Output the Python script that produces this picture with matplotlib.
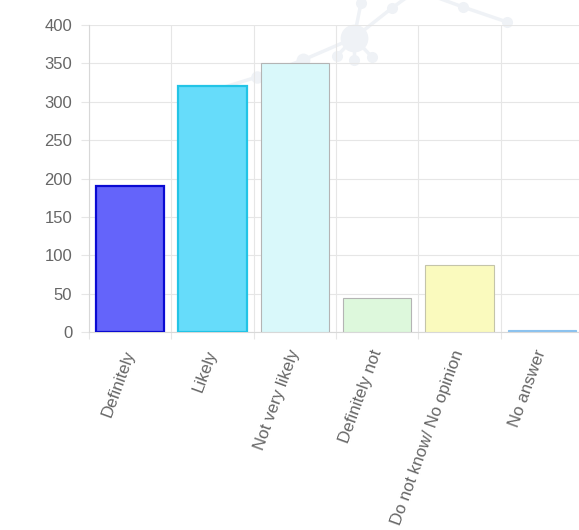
import numpy as np
import matplotlib
matplotlib.use("Agg")
import matplotlib.pyplot as plt
from matplotlib.ticker import FixedLocator

categories = ["Definitely", "Likely", "Not very likely", "Definitely not",
              "Do not know/ No opinion", "No answer"]
counts = [191, 321, 351, 45, 88, 3]
fill_colors = ["#6464fa", "#66dcfa", "#d9f8fa", "#ddf8dc", "#fafabe", "#8cc2ee"]
edge_colors = ["#0a0ad2", "#22c4e6", "#b4b4b4", "#b4b4b4", "#c4c4aa", "#8cc2ee"]
edge_widths = [1.6, 1.6, 0.8, 0.8, 0.8, 0.8]
y_ticks = [0, 50, 100, 150, 200, 250, 300, 350, 400]

plt.rcParams['font.family'] = ['Liberation Sans', 'DejaVu Sans']

W, H = 579, 530
fig = plt.figure(figsize=(W / 100, H / 100), dpi=100)

# faint network watermark behind the chart (pixel coords of the image)
bg = fig.add_axes([0, 0, 1, 1], zorder=0)
bg.set_xlim(0, W)
bg.set_ylim(H, 0)
bg.axis("off")
wm = "#eff2f6"
nodes = {"hub": (354, 38), "a": (361, 3), "b": (392, 8), "c": (463, 7), "d": (507, 22),
         "e": (337, 56), "f": (354, 60), "g": (372, 57), "h": (303, 60), "i": (257, 77)}
links = [("hub", "a"), ("hub", "b"), ("hub", "e"), ("hub", "f"), ("hub", "g"),
         ("hub", "h"), ("h", "i"), ("c", "d")]
for p, q in links:
    bg.plot([nodes[p][0], nodes[q][0]], [nodes[p][1], nodes[q][1]], color=wm, lw=2.5)
bg.plot([392, 410], [8, -5], color=wm, lw=2.5)
bg.plot([463, 430], [7, -5], color=wm, lw=2.5)
bg.plot([257, 215], [77, 90], color=wm, lw=2.5)
sizes = {"hub": 20, "h": 10, "i": 9}
for k, (x, y) in nodes.items():
    bg.plot(x, y, "o", color=wm, ms=sizes.get(k, 8), mec="none")

left, right = 89 / W, 583 / W
bottom, top = (H - 332.3) / H, (H - 25) / H
ax = fig.add_axes([left, bottom, right - left, top - bottom], zorder=1)
ax.patch.set_alpha(0)

x = np.arange(len(categories))
ax.bar(x, counts, width=0.83, color=fill_colors, edgecolor=edge_colors,
       linewidth=edge_widths, zorder=3)

ax.set_xlim(-0.5, len(categories) - 0.5)
ax.set_ylim(0, 400)
ax.set_yticks(y_ticks)
ax.set_xticks(x)
ax.set_xticklabels(categories, rotation=70, ha="right", va="center",
                   rotation_mode="anchor")
ax.xaxis.set_minor_locator(FixedLocator(np.arange(-0.5, len(categories), 1.0)))

grid_c = "#e6e6e6"
ax.grid(True, which="major", axis="y", color=grid_c, lw=0.8, zorder=0)
ax.grid(True, which="minor", axis="x", color=grid_c, lw=0.8, zorder=0)
ax.tick_params(axis="x", which="major", length=0, pad=13, labelsize=12.2,
               labelcolor="#666666")
ax.tick_params(axis="x", which="minor", length=5, color=grid_c, width=0.8)
ax.tick_params(axis="y", length=6, color=grid_c, width=0.8, pad=6,
               labelsize=12, labelcolor="#666666")
for s in ["top", "right"]:
    ax.spines[s].set_visible(False)
for s in ["left", "bottom"]:
    ax.spines[s].set_color("#d8d8d8")
    ax.spines[s].set_linewidth(0.8)

fig.savefig("out.png", dpi=100)
